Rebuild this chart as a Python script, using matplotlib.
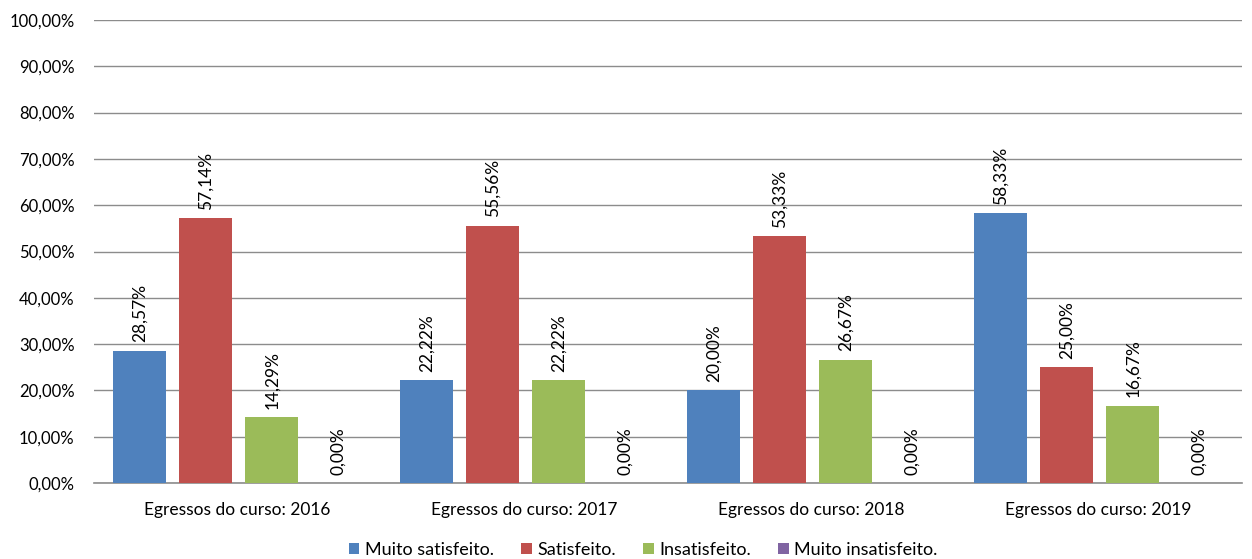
import matplotlib
matplotlib.use("Agg")
import matplotlib.pyplot as plt
import numpy as np

categories = ["Egressos do curso: 2016", "Egressos do curso: 2017",
              "Egressos do curso: 2018", "Egressos do curso: 2019"]
series_names = ["Muito satisfeito.", "Satisfeito.", "Insatisfeito.", "Muito insatisfeito."]
muito_satisfeito = [28.57, 22.22, 20.00, 58.33]
satisfeito = [57.14, 55.56, 53.33, 25.00]
insatisfeito = [14.29, 22.22, 26.67, 16.67]
muito_insatisfeito = [0.00, 0.00, 0.00, 0.00]
yticks = [0, 10, 20, 30, 40, 50, 60, 70, 80, 90, 100]

series = [muito_satisfeito, satisfeito, insatisfeito, muito_insatisfeito]
colors = ["#4F81BD", "#C0504D", "#9BBB59", "#8064A2"]

plt.rcParams['font.family'] = ['Lato', 'DejaVu Sans']

fig = plt.figure(figsize=(12.52, 5.59), dpi=100)
ax = fig.add_axes([94/1252, 1 - 483/559, 1148/1252, (483 - 20)/559])

x = np.arange(len(categories))
step = 0.23
width = 0.185
for i, (vals, col, name) in enumerate(zip(series, colors, series_names)):
    pos = x + (i - 1.5) * step + 0.005
    bars = ax.bar(pos, vals, width=width, color=col, label=name, zorder=3)
    for b, v in zip(bars, vals):
        ax.annotate(f"{v:.2f}%".replace(".", ","), (b.get_x() + b.get_width() / 2, v),
                    xytext=(0, 6), textcoords="offset points", rotation=90,
                    ha="center", va="bottom", fontsize=12.5, color="black")

ax.set_xlim(-0.5, 3.5)
ax.set_ylim(0, 100)
ax.set_yticks(yticks)
ax.set_yticklabels([f"{t:.2f}%".replace(".", ",") for t in yticks], fontsize=12)
ax.set_xticks(x)
ax.set_xticklabels(categories, fontsize=12.5)
ax.tick_params(axis="y", length=0, pad=14)
ax.tick_params(axis="x", length=0, pad=14)
ax.grid(axis="y", color="#8C8C8C", linewidth=1.0, zorder=0)
for s in ["top", "right", "left"]:
    ax.spines[s].set_visible(False)
ax.spines["bottom"].set_color("#8C8C8C")
ax.spines["bottom"].set_linewidth(1.2)

ax.legend(loc="upper center", bbox_to_anchor=(0.5 - 25/1148, -0.127), ncol=4, frameon=False,
          fontsize=13, handlelength=0.6, handleheight=0.6, handletextpad=0.3,
          columnspacing=1.5, borderaxespad=0, borderpad=0)

fig.savefig("out.png", dpi=100)
